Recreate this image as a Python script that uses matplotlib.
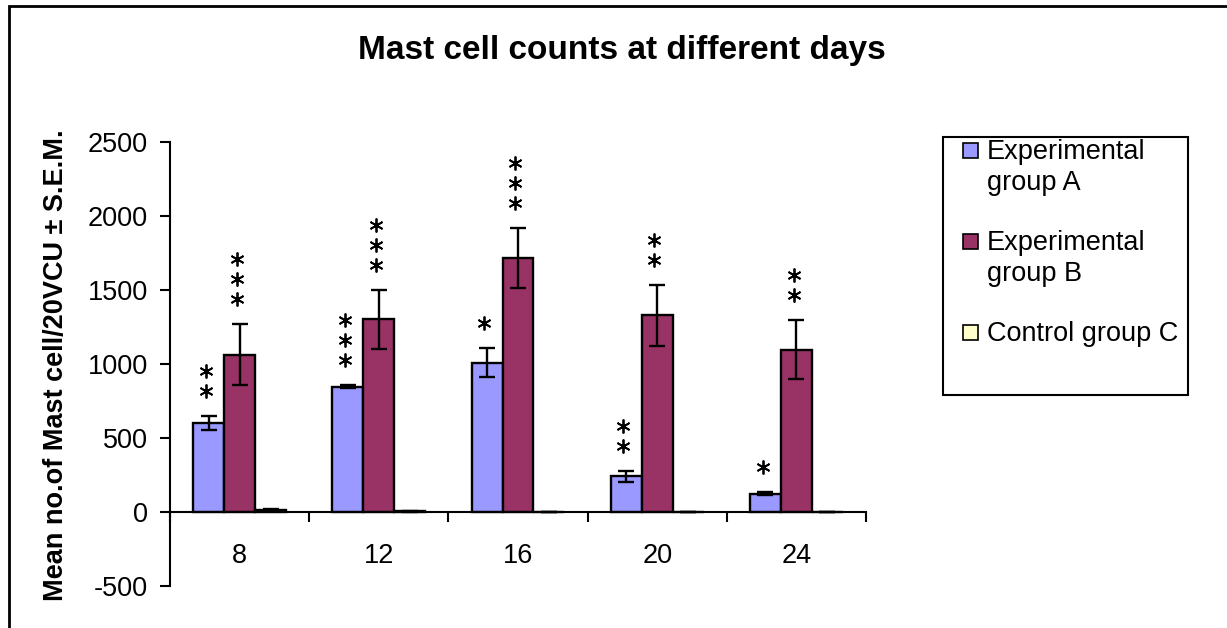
import matplotlib
matplotlib.use("Agg")
import matplotlib.pyplot as plt
import numpy as np
from matplotlib.patches import Rectangle

plt.rcParams["font.family"] = ["Liberation Sans", "DejaVu Sans"]
plt.rcParams["axes.unicode_minus"] = False

days = ["8", "12", "16", "20", "24"]
series_names = ["Experimental\ngroup A", "Experimental\ngroup B", "Control group C"]
series_colors = ["#9999FF", "#993366", "#FFFFCC"]

group_a = [603, 847, 1010, 240, 122]
group_a_err = [48, 10, 100, 40, 10]
group_b = [1064, 1301, 1714, 1328, 1097]
group_b_err = [203, 198, 203, 203, 198]
group_c = [12, 6, 2, 2, 2]
group_c_err = [8, 3, 0, 0, 0]

# number of significance asterisks above each bar
stars_a = [2, 3, 1, 2, 1]
stars_b = [3, 3, 3, 2, 2]
stars_c = [0, 0, 0, 0, 0]

values = [group_a, group_b, group_c]
errors = [group_a_err, group_b_err, group_c_err]
stars = [stars_a, stars_b, stars_c]

fig = plt.figure(figsize=(12.27, 6.28), dpi=100)
ax = fig.add_axes([170 / 1227, 1 - 586 / 628, 696 / 1227, 444 / 628])

x = np.arange(len(days))
width = 1 / 4.5
px_per_unit = 444 / 3000.0

for i, (vals, errs, nst, color) in enumerate(zip(values, errors, stars, series_colors)):
    pos = x + (i - 1) * width
    ax.bar(pos, vals, width=width, color=color, edgecolor="black", linewidth=1.7, zorder=2)
    ax.errorbar(pos, vals, yerr=errs, fmt="none", ecolor="black", elinewidth=1.7,
                capsize=5.5, capthick=1.7, zorder=3)
    for p, v, e, n in zip(pos, vals, errs, nst):
        if n == 0:
            continue
        base = v + e + 25 / px_per_unit
        ys = [base + k * 20 / px_per_unit for k in range(n)]
        ax.plot([p - 0.02] * n, ys, linestyle="none", marker=(6, 2, 0), markersize=10,
                markeredgewidth=1.3, color="black", zorder=4)

ax.set_xlim(-0.5, len(days) - 0.5)
ax.set_ylim(-500, 2500)
ax.set_yticks(np.arange(-500, 2501, 500))
ax.tick_params(axis="y", direction="out", length=7, width=1.5, labelsize=19.5, pad=9)

ax.set_xticks(np.arange(-0.5, len(days), 1.0))
ax.set_xticklabels([])
ax.set_xticks(x, minor=True)
ax.set_xticklabels(days, minor=True)
ax.tick_params(axis="x", which="major", direction="out", length=7, width=1.5)
ax.tick_params(axis="x", which="minor", length=0, labelsize=19.5, pad=22)

ax.spines["top"].set_visible(False)
ax.spines["right"].set_visible(False)
ax.spines["bottom"].set_position(("data", 0))
ax.spines["left"].set_linewidth(1.5)
ax.spines["bottom"].set_linewidth(1.5)
ax.set_facecolor("none")

fig.text(622 / 1227, 1 - 51 / 628, "Mast cell counts at different days", ha="center",
         va="center", fontsize=24, fontweight="bold")
fig.text(56 / 1227, 1 - 365 / 628, "Mean no.of Mast cell/20VCU \u00b1 S.E.M.", ha="center",
         va="center", rotation=90, fontsize=19.5, fontweight="bold")

# legend box drawn by hand so the marker sits on the first text line
fig.add_artist(Rectangle((943 / 1227, 1 - 395 / 628), 245 / 1227, 258 / 628,
                         transform=fig.transFigure, facecolor="white", edgecolor="black",
                         linewidth=1.5))
for k, (name, color) in enumerate(zip(series_names, series_colors)):
    top = 139 + k * 91
    fig.add_artist(Rectangle((963 / 1227, 1 - 158 / 628 - k * 91 / 628), 15 / 1227, 15 / 628,
                             transform=fig.transFigure, facecolor=color,
                             edgecolor="black", linewidth=1.2))
    fig.text(987 / 1227, 1 - top / 628, name, ha="left", va="top", fontsize=19.5,
             linespacing=1.25)

# outer chart-area border (cut at right and bottom as in the source)
fig.add_artist(Rectangle((9 / 1227, -0.1), 1.2, 1.1 - 6 / 628, transform=fig.transFigure,
                         facecolor="none", edgecolor="black", linewidth=2))

fig.savefig("out.png", dpi=100)
